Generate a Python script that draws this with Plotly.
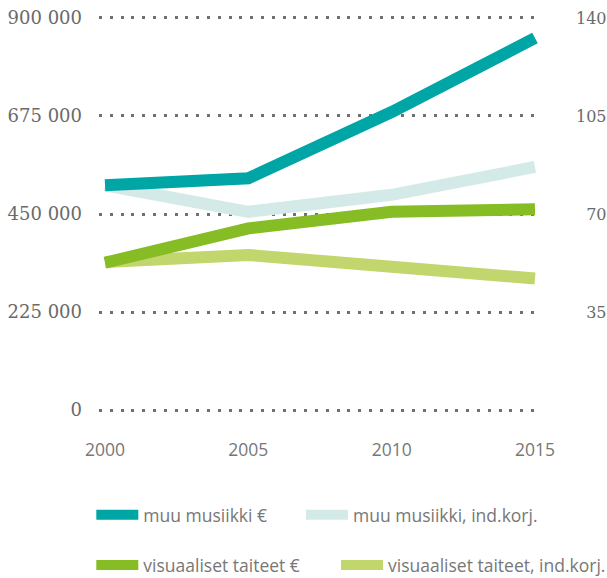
import plotly.graph_objects as go

years = [2000, 2005, 2010, 2015]
muu_eur = [516000, 532000, 684000, 854000]
muu_ind = [516000, 455000, 494000, 558000]
vis_eur = [338000, 417000, 455000, 461000]
vis_ind = [340000, 356000, 329000, 302000]

left_ticks = [0, 225000, 450000, 675000, 900000]
left_labels = ["0", "225 000", "450 000", "675 000", "900 000"]
right_ticks = [35000, 70000, 105000, 140000]
right_labels = ["\u200735", "\u200770", "105", "140"]

TEAL = "#00a5a5"
LTEAL = "#d4eae8"
GREEN = "#86bc24"
LGREEN = "#c2d66e"

fig = go.Figure()
fig.add_trace(go.Scatter(x=years, y=muu_ind, mode="lines", name="muu musiikki, ind.korj.",
                         line=dict(color=LTEAL, width=12), legend="legend2"))
fig.add_trace(go.Scatter(x=years, y=vis_ind, mode="lines", name="visuaaliset taiteet, ind.korj.",
                         line=dict(color=LGREEN, width=12), legend="legend4"))
fig.add_trace(go.Scatter(x=years, y=vis_eur, mode="lines", name="visuaaliset taiteet €",
                         line=dict(color=GREEN, width=12), legend="legend3"))
fig.add_trace(go.Scatter(x=years, y=muu_eur, mode="lines", name="muu musiikki €",
                         line=dict(color=TEAL, width=12), legend="legend"))
fig.add_trace(go.Scatter(x=[], y=[], yaxis="y2", showlegend=False, hoverinfo="skip"))

serif = dict(family="DejaVu Serif", size=18, color="#6a6a6a")
serif_r = dict(family="DejaVu Serif", size=16, color="#6a6a6a")
sans_t = dict(family="Open Sans", size=17.5, color="#777777")
sans = dict(family="Open Sans", size=17.5, color="#777777")


def leg(x, y):
    return dict(orientation="v", x=x, xanchor="left", y=y, yanchor="middle",
                itemwidth=42, font=sans, bgcolor="rgba(0,0,0,0)", visible=True)


ROW1 = -0.2601
ROW2 = -0.3864

fig.update_layout(
    width=607, height=578,
    margin=dict(l=99, r=66, t=16, b=166, autoexpand=False),
    paper_bgcolor="white", plot_bgcolor="white",
    hovermode=False,
    showlegend=True,
    xaxis=dict(range=[1999.79, 2015.21], tickvals=years, ticktext=[str(y) for y in years],
               showgrid=False, zeroline=False, showline=False, ticks="", automargin=False,
               tickfont=sans_t, ticklabelstandoff=25),
    yaxis=dict(range=[-4500, 904500], tickvals=left_ticks, ticktext=left_labels,
               showgrid=True, gridcolor="#707070", gridwidth=3, griddash="3px,7.8px",
               zeroline=False, showline=False, ticks="", tickfont=serif, ticklabelstandoff=16,
               automargin=False),
    yaxis2=dict(range=[-700, 140700], overlaying="y", side="right", tickvals=right_ticks,
                ticktext=right_labels, showgrid=False, zeroline=False, showline=False,
                ticks="", tickfont=serif_r, ticklabelstandoff=34, automargin=False),
    legend=leg(-0.0174, ROW1),
    legend2=leg(0.457, ROW1),
    legend3=leg(-0.0174, ROW2),
    legend4=leg(0.5362, ROW2),
)

fig.write_html("out.html", config={"displayModeBar": False},
               post_script="document.body.style.margin='0';document.body.style.overflow='hidden';")
